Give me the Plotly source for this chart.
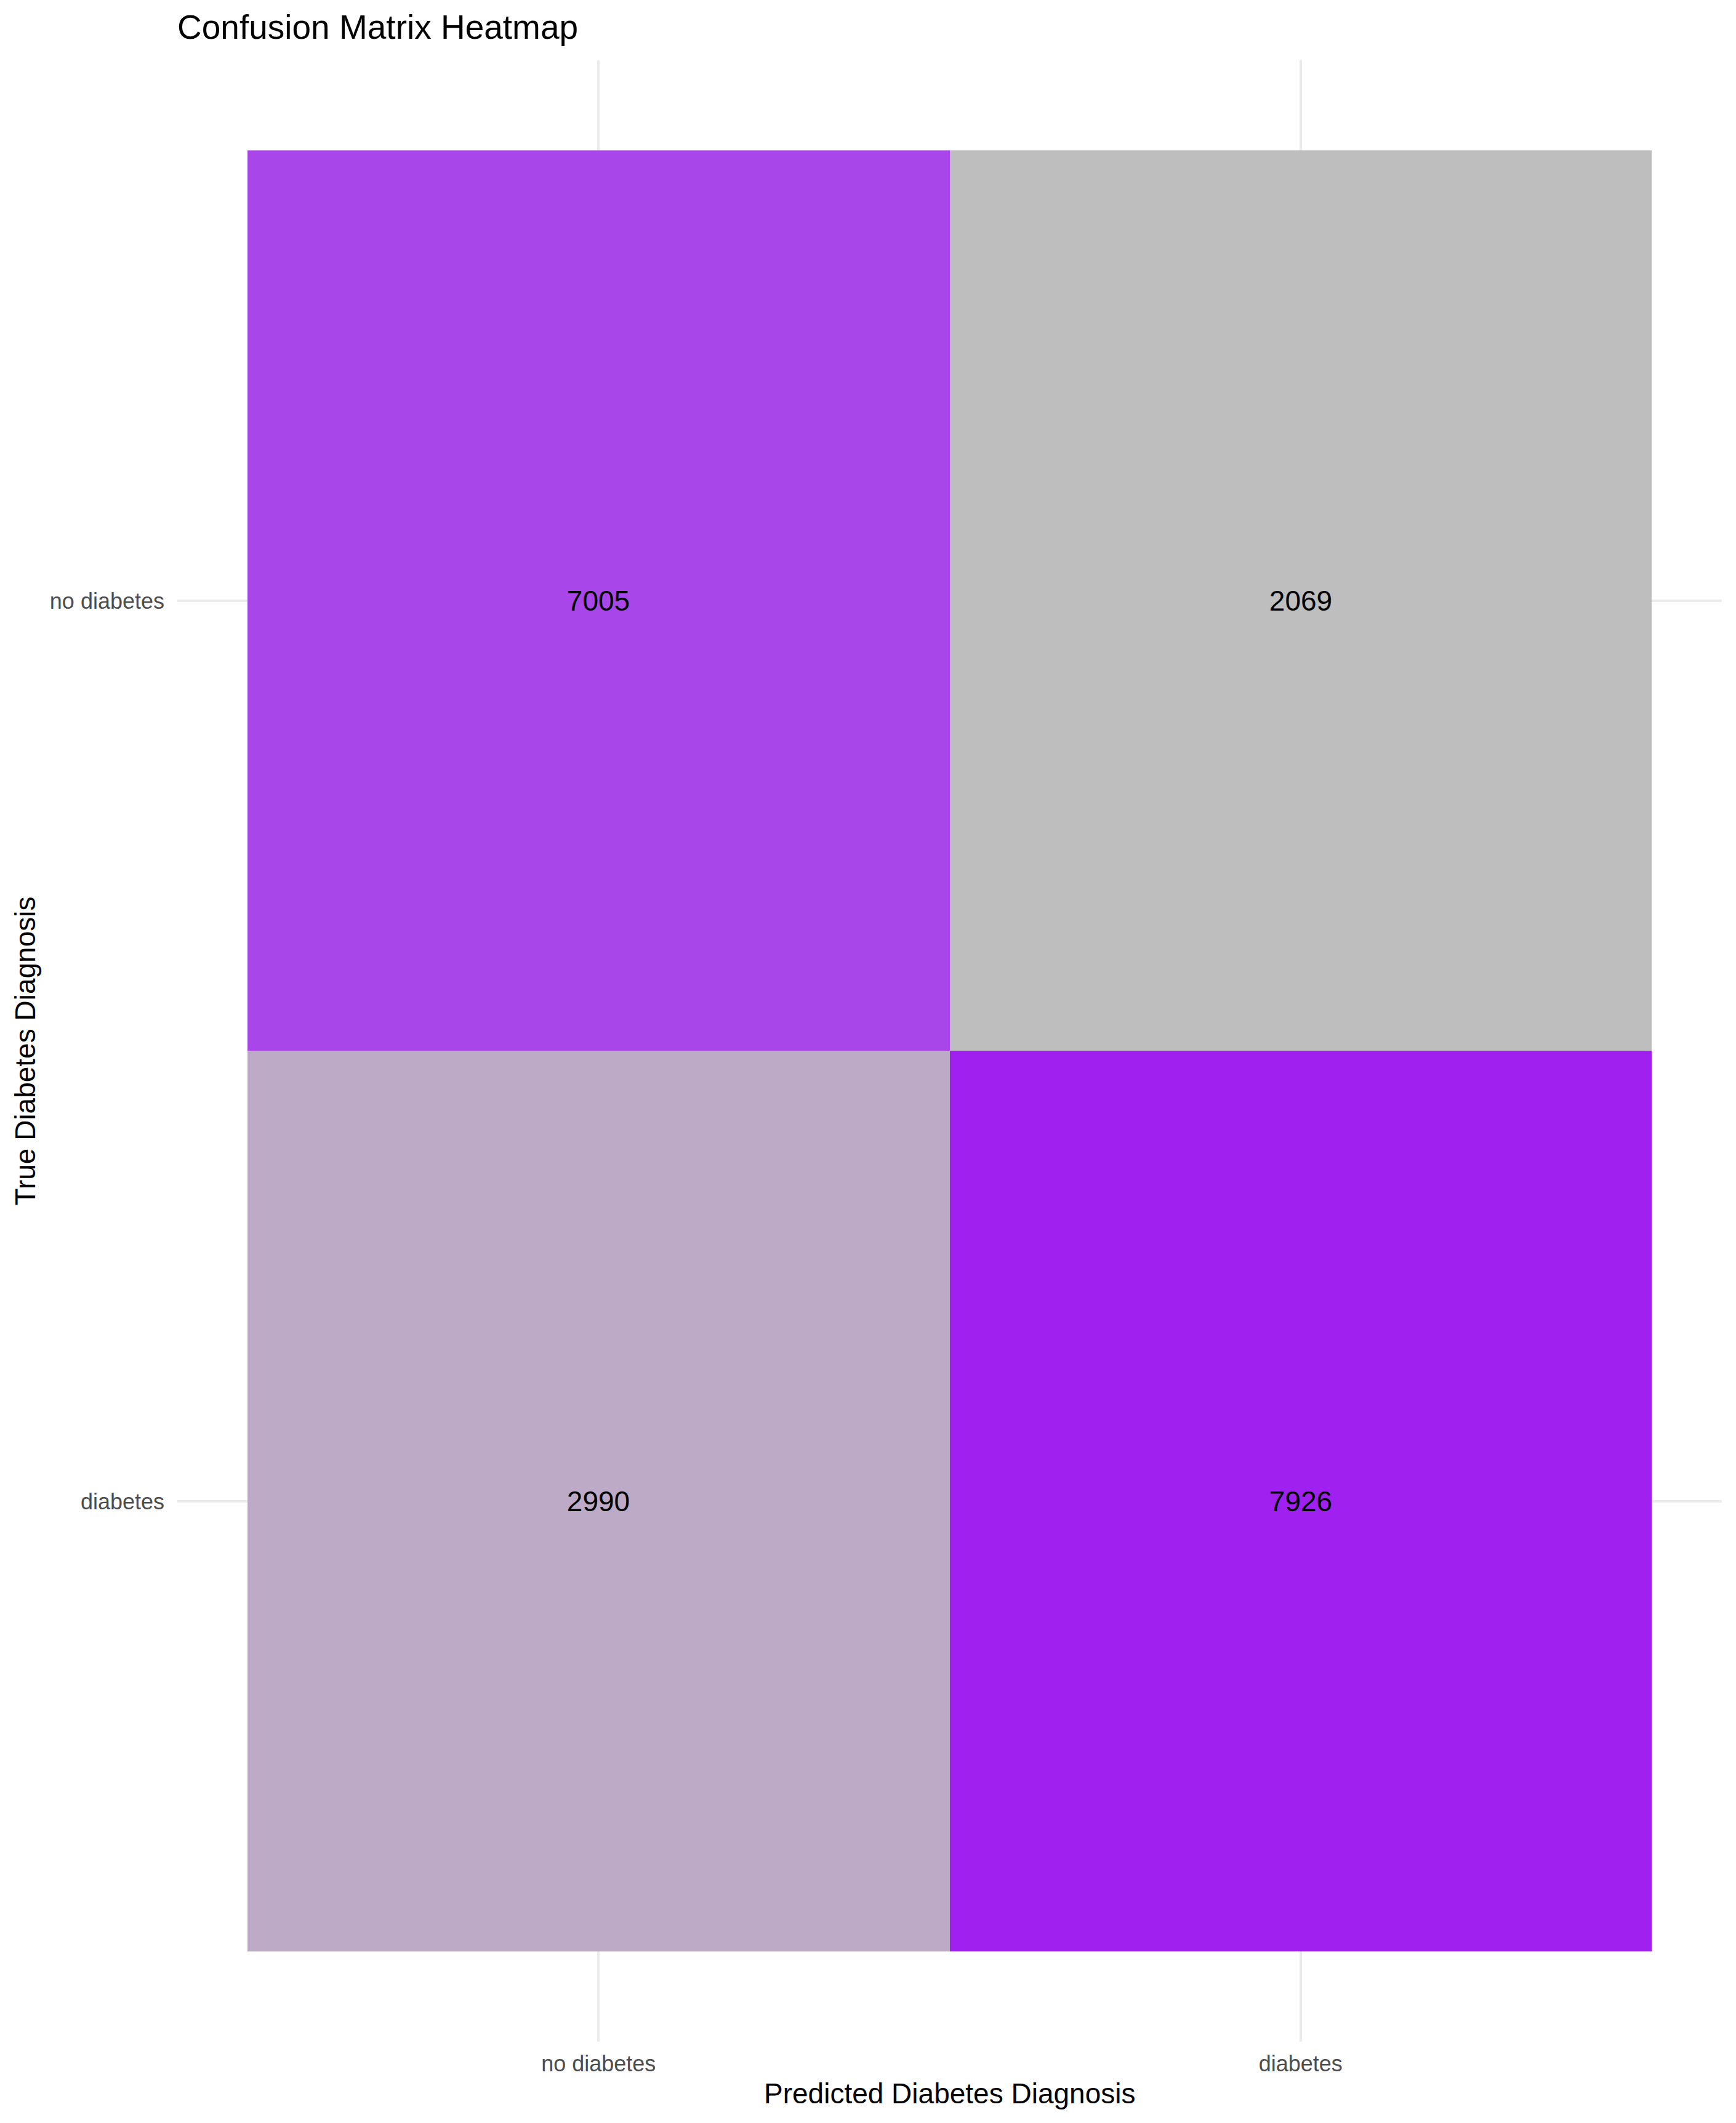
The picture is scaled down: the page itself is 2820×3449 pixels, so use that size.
import plotly.graph_objects as go

# ---- data ----
pred_labels = ["no diabetes", "diabetes"]          # x categories
true_labels = ["diabetes", "no diabetes"]          # y categories (bottom -> top)
counts_true_diabetes = [2990, 7926]                # row: true = diabetes
counts_true_no_diabetes = [7005, 2069]             # row: true = no diabetes

z = [counts_true_diabetes, counts_true_no_diabetes]

# ---- colour ramp grey -> purple interpolated in CIELAB (like ggplot2) ----
def _srgb_to_lin(c):
    c = c / 255.0
    return c / 12.92 if c <= 0.04045 else ((c + 0.055) / 1.055) ** 2.4

def _lin_to_srgb(c):
    c = max(0.0, min(1.0, c))
    v = 12.92 * c if c <= 0.0031308 else 1.055 * c ** (1 / 2.4) - 0.055
    return int(round(max(0, min(1, v)) * 255))

_WHITE = (0.95047, 1.0, 1.08883)

def _f(t):
    return t ** (1 / 3) if t > 216 / 24389 else (24389 / 27 * t + 16) / 116

def _finv(t):
    return t ** 3 if t ** 3 > 216 / 24389 else (116 * t - 16) / (24389 / 27)

def hex_to_lab(h):
    r, g, b = (int(h[i:i + 2], 16) for i in (1, 3, 5))
    r, g, b = _srgb_to_lin(r), _srgb_to_lin(g), _srgb_to_lin(b)
    X = 0.4124 * r + 0.3576 * g + 0.1805 * b
    Y = 0.2126 * r + 0.7152 * g + 0.0722 * b
    Z = 0.0193 * r + 0.1192 * g + 0.9505 * b
    fx, fy, fz = _f(X / _WHITE[0]), _f(Y / _WHITE[1]), _f(Z / _WHITE[2])
    return (116 * fy - 16, 500 * (fx - fy), 200 * (fy - fz))

def lab_to_hex(L, a, b):
    fy = (L + 16) / 116
    fx = fy + a / 500
    fz = fy - b / 200
    X, Y, Z = _finv(fx) * _WHITE[0], _finv(fy) * _WHITE[1], _finv(fz) * _WHITE[2]
    r = 3.2406 * X - 1.5372 * Y - 0.4986 * Z
    g = -0.9689 * X + 1.8758 * Y + 0.0415 * Z
    bb = 0.0557 * X - 0.2040 * Y + 1.0570 * Z
    return "#%02X%02X%02X" % (_lin_to_srgb(r), _lin_to_srgb(g), _lin_to_srgb(bb))

low_lab, high_lab = hex_to_lab("#BEBEBE"), hex_to_lab("#A020F0")
n_stops = 21
colorscale = []
for i in range(n_stops):
    t = i / (n_stops - 1)
    lab = [lo + (hi - lo) * t for lo, hi in zip(low_lab, high_lab)]
    colorscale.append([t, lab_to_hex(*lab)])

FONT = "Liberation Sans, Arial, Helvetica, sans-serif"

fig = go.Figure(
    go.Heatmap(
        x=pred_labels,
        y=true_labels,
        z=z,
        colorscale=colorscale,
        showscale=False,
        texttemplate="%{z}",
        textfont=dict(family=FONT, size=46, color="#000000"),
        xgap=0,
        ygap=0,
    )
)

# page body has an 8px margin, so the figure is placed at (8, 8)
W, H = 2804, 3433
ML, MR, MT, MB = 280, 15, 90, 124

fig.update_layout(
    width=W,
    height=H,
    margin=dict(l=ML, r=MR, t=MT, b=MB, pad=0),
    paper_bgcolor="white",
    plot_bgcolor="white",
    font=dict(family=FONT, color="#000000"),
    title=dict(
        text="Confusion Matrix Heatmap",
        font=dict(family=FONT, size=55, color="#000000"),
        xref="paper",
        x=0,
        xanchor="left",
        yref="container",
        y=1 - 36 / H,
        yanchor="middle",
        pad=dict(l=0, r=0, t=0, b=0),
    ),
    showlegend=False,
)

fig.update_xaxes(
    type="category",
    categoryorder="array",
    categoryarray=pred_labels,
    range=[-0.6, 1.6],
    showgrid=True,
    gridcolor="#EBEBEB",
    gridwidth=4,
    zeroline=False,
    showline=False,
    ticks="",
    tickfont=dict(family=FONT, size=36, color="#4D4D4D"),
    ticklabelstandoff=11,
    fixedrange=True,
)
fig.update_yaxes(
    type="category",
    categoryorder="array",
    categoryarray=true_labels,
    range=[-0.6, 1.6],
    showgrid=True,
    gridcolor="#EBEBEB",
    gridwidth=4,
    zeroline=False,
    showline=False,
    ticks="",
    tickfont=dict(family=FONT, size=36, color="#4D4D4D"),
    ticklabelstandoff=20,
    fixedrange=True,
)

fig.add_annotation(
    text="Predicted Diabetes Diagnosis",
    xref="paper", yref="paper",
    x=0.5, y=0,
    xanchor="center", yanchor="middle",
    yshift=-84,
    showarrow=False,
    font=dict(family=FONT, size=46, color="#000000"),
)
fig.add_annotation(
    text="True Diabetes Diagnosis",
    xref="paper", yref="paper",
    x=0, y=0.5,
    xanchor="center", yanchor="middle",
    xshift=-(288 - 40),
    textangle=-90,
    showarrow=False,
    font=dict(family=FONT, size=46, color="#000000"),
)

fig.write_html("out.html")
